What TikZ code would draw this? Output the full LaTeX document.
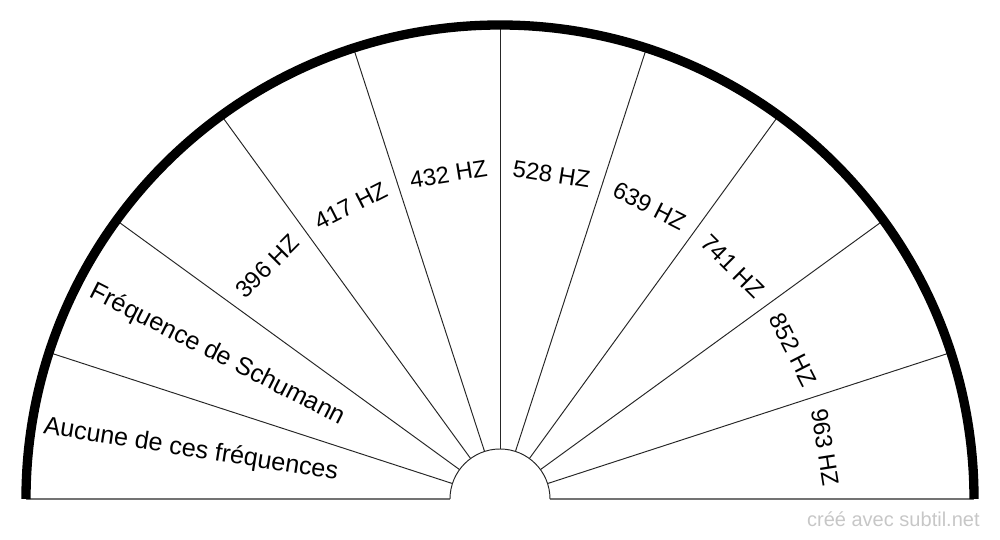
\documentclass[tikz,border=0pt]{standalone}
\usepackage{fontspec}
\setmainfont{Liberation Sans}
\begin{document}
\begin{tikzpicture}[x=0.02cm, y=0.02cm,
    freq/.style={font=\fontsize{13.5}{16}\selectfont, inner sep=0pt},
    longfreq/.style={font=\fontsize{14.3}{17}\selectfont, inner sep=0pt},
    spoke/.style={black!85, line width=0.55pt}]

    \useasboundingbox (-500,-41) rectangle (500,499);

    % 1. Draw the ten sector separators
    \foreach \a in {18,36,...,162} {
        \draw[spoke] (\a:50) -- (\a:472);
    }

    % 2. Draw the base line and the small hub
    \draw[black!55, line width=0.6pt] (-474,0) -- (-50,0);
    \draw[black!55, line width=0.6pt] (50,0) -- (474,0);
    \draw[spoke] (50,0) arc (0:180:50);

    % 3. Draw the thick outer rim
    \draw[black, line width=5.3pt] (474,0) arc (0:180:474);

    % 4. Put the labels in their sectors
    \foreach \ang/\rot/\txt/\nm in {
        9/-81/963 HZ/f963, 27/-63/852 HZ/f852,
        45/-45/741 HZ/f741, 63/-27/639 HZ/f639,
        81/-9/528 HZ/f528, 99/9/432 HZ/f432,
        117/27/417 HZ/f417, 135/45/396 HZ/f396} {
        \node[freq, rotate=\rot] (\nm) at (\ang:329) {\txt};
    }
    \node[longfreq, rotate=-27] (schumann) at (153:317) {Fréquence de Schumann};
    \node[longfreq, rotate=-9] (aucune) at (171:313) {Aucune de ces fréquences};

    \node[font=\fontsize{11.4}{13}\selectfont, text=black!22, inner sep=0pt,
        anchor=base east] (credit) at (480,-28) {créé avec subtil.net};

\end{tikzpicture}
\end{document}
